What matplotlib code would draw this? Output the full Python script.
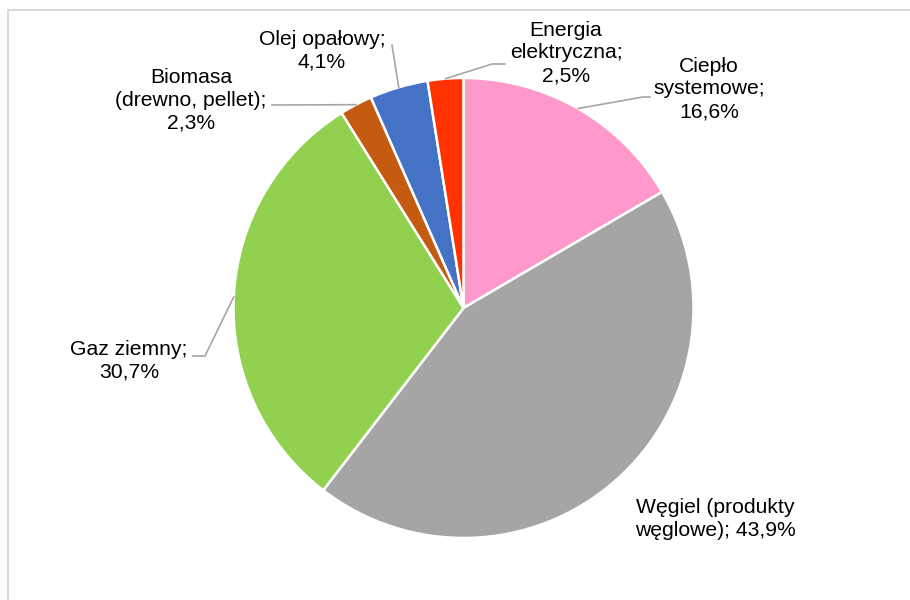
import numpy as np
import matplotlib.pyplot as plt
from matplotlib.patches import Rectangle

plt.rcParams['font.family'] = ['Liberation Sans', 'DejaVu Sans']

# data
labels = ["Ciepło\nsystemowe;", "Węgiel (produkty\nwęglowe);", "Gaz ziemny;",
          "Biomasa\n(drewno, pellet);", "Olej opałowy;", "Energia\nelektryczna;"]
values = [16.6, 43.9, 30.7, 2.3, 4.1, 2.5]
value_text = ["16,6%", "43,9%", "30,7%", "2,3%", "4,1%", "2,5%"]
colors = ["#FF99CC", "#A5A5A5", "#92D050", "#C55A11", "#4472C4", "#FF3300"]

W, H = 910, 600
fig = plt.figure(figsize=(W / 100, H / 100), dpi=100)
ax = fig.add_axes([0, 0, 1, 1])


def Y(py):
    return H - py


# outer frame (cut off at right/bottom like the source)
ax.add_patch(Rectangle((8, Y(H + 20)), W + 20, H + 10, fill=False,
                       edgecolor="#D9D9D9", linewidth=1.5, zorder=0))

cx, cy, r = 463.5, Y(308), 230
wedges, _ = ax.pie(values, colors=colors, startangle=90, counterclock=False,
                   center=(cx, cy), radius=r, frame=True,
                   wedgeprops=dict(edgecolor="white", linewidth=1.8))
ax.set_xlim(0, W)
ax.set_ylim(0, H)
ax.set_aspect('equal')
ax.axis('off')

# label layout: text center (px), elbow points (px) or None
layout = [
    ((709, 89), [(643, 97), (650, 97)], "\n"),
    ((715, 519), None, " "),
    ((129, 361), [(205, 356), (193, 356)], "\n"),
    ((191, 100), [(272, 105)], "\n"),
    ((322, 51), [(392, 45)], "\n"),
    ((566, 53), [(492, 64), (505, 64)], "\n"),
]

for w, lab, vt, (pos, elbow, sep) in zip(wedges, labels, value_text, layout):
    ax.text(pos[0], Y(pos[1]), lab + sep + vt, ha="center", va="center",
            fontsize=15.2, color="#000000", linespacing=1.25)
    if elbow:
        mid = np.deg2rad((w.theta1 + w.theta2) / 2)
        xs = [cx + r * np.cos(mid)] + [p[0] for p in elbow]
        ys = [cy + r * np.sin(mid)] + [Y(p[1]) for p in elbow]
        ax.plot(xs, ys, color="#A6A6A6", linewidth=1.2, zorder=1)

fig.savefig("out.png", dpi=100)
